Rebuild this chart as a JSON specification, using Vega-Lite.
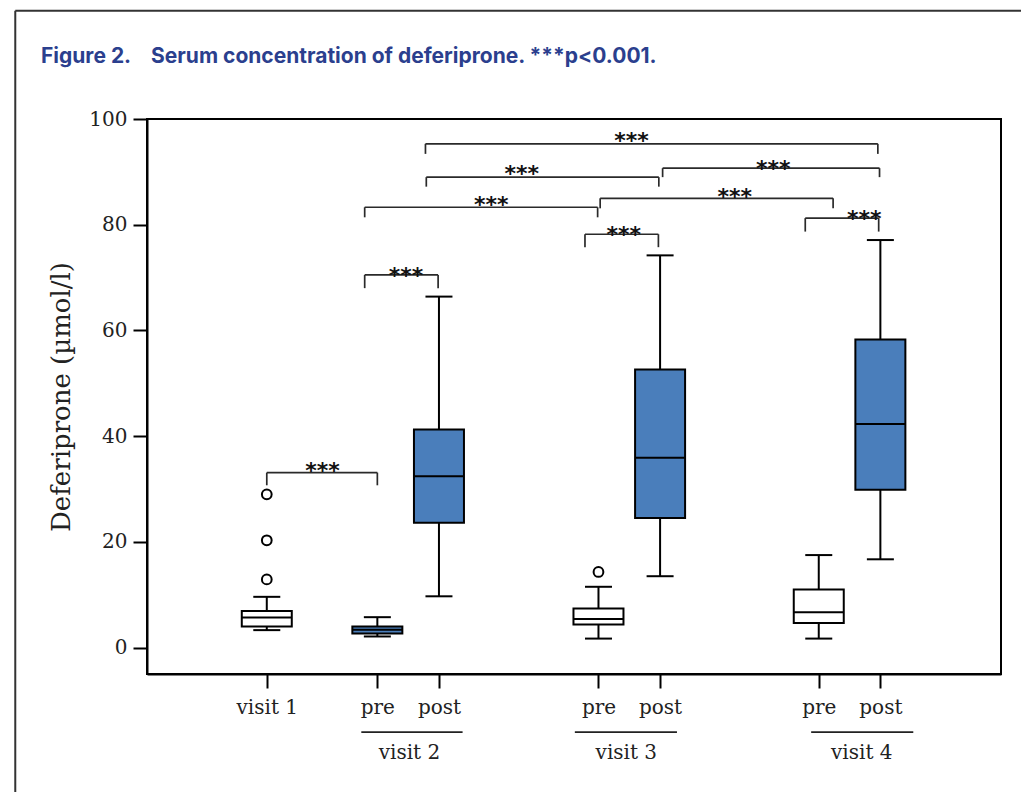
{
  "$schema": "https://vega.github.io/schema/vega-lite/v6.json",
  "width": 854,
  "height": 555,
  "autosize": "none",
  "padding": {"left": 147, "top": 119, "right": 20, "bottom": 118},
  "background": "white",
  "title": {
    "text": "Figure 2.\u00a0\u00a0\u00a0 Serum concentration of deferiprone. ***p<0.001.",
    "anchor": "start",
    "frame": "group",
    "dx": -106,
    "offset": -57,
    "font": "Inter",
    "fontSize": 21,
    "fontWeight": "bold",
    "color": "#2b3f8e"
  },
  "config": {
    "view": {"stroke": "black", "strokeWidth": 2},
    "axis": {
      "grid": false,
      "domainColor": "black",
      "domainWidth": 2,
      "tickColor": "black",
      "tickWidth": 2,
      "tickSize": 14,
      "labelFont": "DejaVu Serif",
      "labelFontSize": 20,
      "labelColor": "#222",
      "titleFont": "DejaVu Serif",
      "titleFontWeight": "normal",
      "titleColor": "#222"
    }
  },
  "datasets": {
    "boxes": [
      {"pos": 13.6, "lo": 3.3, "q1": 4.0, "med": 5.7, "q3": 6.9, "hi": 9.6, "group": "open"},
      {"pos": 26.7, "lo": 2.1, "q1": 2.65, "med": 3.35, "q3": 4.0, "hi": 5.75, "group": "filled"},
      {"pos": 34.0, "lo": 9.7, "q1": 23.6, "med": 32.4, "q3": 41.25, "hi": 66.4, "group": "filled"},
      {"pos": 52.9, "lo": 1.7, "q1": 4.35, "med": 5.4, "q3": 7.4, "hi": 11.5, "group": "open"},
      {"pos": 60.2, "lo": 13.5, "q1": 24.5, "med": 35.9, "q3": 52.6, "hi": 74.2, "group": "filled"},
      {"pos": 79.0, "lo": 1.7, "q1": 4.65, "med": 6.7, "q3": 11.0, "hi": 17.5, "group": "open"},
      {"pos": 86.3, "lo": 16.7, "q1": 29.85, "med": 42.3, "q3": 58.3, "hi": 77.1, "group": "filled"}
    ],
    "outliers": [
      {"pos": 13.6, "val": 29.0},
      {"pos": 13.6, "val": 20.3},
      {"pos": 13.6, "val": 12.9},
      {"pos": 52.9, "val": 14.3}
    ],
    "brackets": [
      {"x1": 13.6, "x2": 26.7, "y": 33.1, "yend": 30.7},
      {"x1": 25.2, "x2": 33.9, "y": 70.5, "yend": 68.0},
      {"x1": 51.3, "x2": 60.0, "y": 78.2, "yend": 75.75},
      {"x1": 77.4, "x2": 86.1, "y": 81.25, "yend": 78.7},
      {"x1": 25.2, "x2": 52.8, "y": 83.3, "yend": 81.4},
      {"x1": 53.1, "x2": 80.7, "y": 85.0, "yend": 83.1},
      {"x1": 32.5, "x2": 60.05, "y": 89.0, "yend": 87.2},
      {"x1": 60.5, "x2": 86.2, "y": 90.7, "yend": 89.0},
      {"x1": 32.4, "x2": 86.0, "y": 95.3, "yend": 93.4}
    ],
    "stars": [
      {"sx": 20.2, "sy": 34.3, "label": "***"},
      {"sx": 30.1, "sy": 71.3, "label": "***"},
      {"sx": 55.9, "sy": 79.0, "label": "***"},
      {"sx": 84.4, "sy": 82.0, "label": "***"},
      {"sx": 40.2, "sy": 84.6, "label": "***"},
      {"sx": 69.05, "sy": 86.2, "label": "***"},
      {"sx": 43.8, "sy": 90.5, "label": "***"},
      {"sx": 73.6, "sy": 91.5, "label": "***"},
      {"sx": 56.8, "sy": 96.8, "label": "***"}
    ],
    "groups": [
      {"gx1": 24.8, "gx2": 36.8, "gc": 30.5, "label": "visit 2"},
      {"gx1": 50.1, "gx2": 62.2, "gc": 56.2, "label": "visit 3"},
      {"gx1": 78.1, "gx2": 90.2, "gc": 84.1, "label": "visit 4"}
    ],
    "frame": [
      {"fx1": -16.2, "fx2": 103, "fy1": 120.5, "fy2": 120.5},
      {"fx1": -16.2, "fx2": -16.2, "fy1": -28, "fy2": 120.5}
    ]
  },
  "layer": [
    {
      "data": {"name": "frame"},
      "mark": {"type": "rule", "color": "#333", "strokeWidth": 2},
      "encoding": {
        "x": {"field": "fx1", "type": "quantitative", "scale": {"domain": [0, 100], "nice": false, "zero": false},
          "axis": {"values": [13.6, 26.7, 34.0, 52.9, 60.2, 79.0, 86.3],
            "labelExpr": "datum.value == 13.6 ? 'visit 1' : (datum.value == 26.7 || datum.value == 52.9 || datum.value == 79) ? 'pre' : 'post'",
            "labelPadding": 9, "title": null}},
        "x2": {"field": "fx2"},
        "y": {"field": "fy1", "type": "quantitative", "scale": {"domain": [-5, 100], "nice": false, "zero": false},
          "axis": {"values": [0, 20, 40, 60, 80, 100], "labelPadding": 6, "title": "Deferiprone (µmol/l)", "titleFontSize": 26, "titlePadding": 14}},
        "y2": {"field": "fy2"}
      }
    },
    {
      "data": {"name": "boxes"},
      "mark": {"type": "rule", "color": "black", "strokeWidth": 2},
      "encoding": {
        "x": {"field": "pos", "type": "quantitative"},
        "y": {"field": "lo", "type": "quantitative"},
        "y2": {"field": "hi"}
      }
    },
    {
      "data": {"name": "boxes"},
      "mark": {"type": "tick", "orient": "horizontal", "color": "black", "size": 27, "thickness": 2, "opacity": 1},
      "encoding": {
        "x": {"field": "pos", "type": "quantitative"},
        "y": {"field": "lo", "type": "quantitative"}
      }
    },
    {
      "data": {"name": "boxes"},
      "mark": {"type": "tick", "orient": "horizontal", "color": "black", "size": 27, "thickness": 2, "opacity": 1},
      "encoding": {
        "x": {"field": "pos", "type": "quantitative"},
        "y": {"field": "hi", "type": "quantitative"}
      }
    },
    {
      "data": {"name": "boxes"},
      "mark": {"type": "bar", "size": 50, "stroke": "black", "strokeWidth": 2, "orient": "vertical"},
      "encoding": {
        "x": {"field": "pos", "type": "quantitative"},
        "y": {"field": "q1", "type": "quantitative"},
        "y2": {"field": "q3"},
        "fill": {"field": "group", "type": "nominal", "scale": {"domain": ["open", "filled"], "range": ["white", "#4a7ebb"]}, "legend": null}
      }
    },
    {
      "data": {"name": "boxes"},
      "mark": {"type": "tick", "orient": "horizontal", "color": "black", "size": 50, "thickness": 2, "opacity": 1},
      "encoding": {
        "x": {"field": "pos", "type": "quantitative"},
        "y": {"field": "med", "type": "quantitative"}
      }
    },
    {
      "data": {"name": "outliers"},
      "mark": {"type": "point", "shape": "circle", "filled": false, "fill": "white", "stroke": "black", "strokeWidth": 2, "size": 95, "opacity": 1},
      "encoding": {
        "x": {"field": "pos", "type": "quantitative"},
        "y": {"field": "val", "type": "quantitative"}
      }
    },
    {
      "data": {"name": "brackets"},
      "mark": {"type": "rule", "color": "#2a2a2a", "strokeWidth": 1.7},
      "encoding": {
        "x": {"field": "x1", "type": "quantitative"},
        "x2": {"field": "x2"},
        "y": {"field": "y", "type": "quantitative"}
      }
    },
    {
      "data": {"name": "brackets"},
      "mark": {"type": "rule", "color": "#2a2a2a", "strokeWidth": 1.7},
      "encoding": {
        "x": {"field": "x1", "type": "quantitative"},
        "y": {"field": "y", "type": "quantitative"},
        "y2": {"field": "yend"}
      }
    },
    {
      "data": {"name": "brackets"},
      "mark": {"type": "rule", "color": "#2a2a2a", "strokeWidth": 1.7},
      "encoding": {
        "x": {"field": "x2", "type": "quantitative"},
        "y": {"field": "y", "type": "quantitative"},
        "y2": {"field": "yend"}
      }
    },
    {
      "data": {"name": "stars"},
      "mark": {"type": "text", "font": "DejaVu Sans", "fontWeight": "bold", "fontSize": 22, "baseline": "alphabetic", "align": "center", "dy": 12, "color": "#111"},
      "encoding": {
        "x": {"field": "sx", "type": "quantitative"},
        "y": {"field": "sy", "type": "quantitative"},
        "text": {"field": "label"}
      }
    },
    {
      "data": {"name": "groups"},
      "mark": {"type": "rule", "color": "#222", "strokeWidth": 1.6},
      "encoding": {
        "x": {"field": "gx1", "type": "quantitative"},
        "x2": {"field": "gx2"},
        "y": {"datum": -16}
      }
    },
    {
      "data": {"name": "groups"},
      "mark": {"type": "text", "font": "DejaVu Serif", "fontSize": 20, "baseline": "middle", "align": "center", "color": "#222"},
      "encoding": {
        "x": {"field": "gc", "type": "quantitative"},
        "y": {"datum": -20},
        "text": {"field": "label"}
      }
    }
  ]
}
